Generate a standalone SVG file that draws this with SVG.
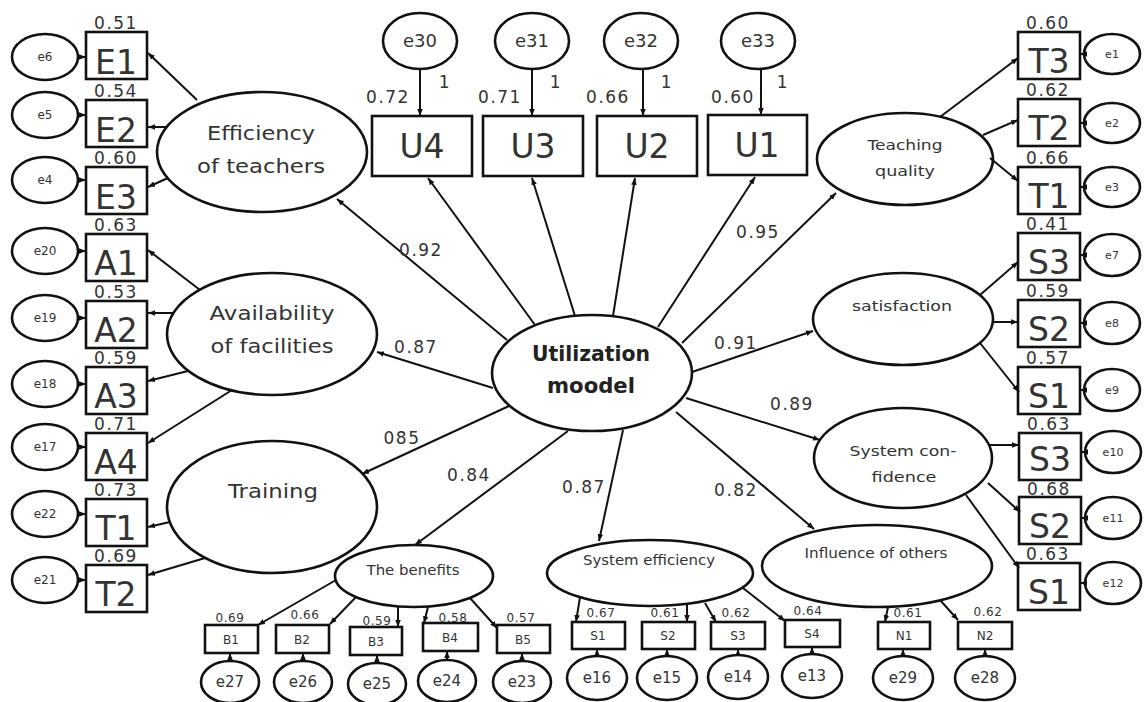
<svg xmlns="http://www.w3.org/2000/svg" width="1144" height="702" viewBox="0 0 1144 702">
<style>
.n ellipse,.n rect{fill:#fff;stroke:#111;stroke-width:2.6}
text{font-family:"DejaVu Sans","Liberation Sans",sans-serif;fill:#333;text-anchor:middle}
.big{font-size:33px}
.v{font-size:17px;letter-spacing:1.5px}
.vs{font-size:12px;letter-spacing:0.6px}
.el{font-size:12px}
.er{font-size:11px}
.et{font-size:18px}
.eb{font-size:15px}
.bl{font-size:12px}
.lat{font-size:20px}
.lat2{font-size:14px}
.ctr{font-size:22px;font-weight:bold;fill:#222}
#connectors line{stroke:#111;stroke-width:2;marker-end:url(#ah)}
</style>
<defs>
<marker id="ah" viewBox="0 0 10 10" refX="10" refY="5" markerWidth="7" markerHeight="7" markerUnits="userSpaceOnUse" orient="auto"><path d="M0,1 L10,5 L0,9 z" fill="#111"/></marker>
</defs>
<rect width="1144" height="702" fill="#fff"/>

<!-- central -->
<g id="utilization" class="n"><ellipse cx="592" cy="373" rx="100" ry="58"/><text class="ctr" x="591" y="361" textLength="118" lengthAdjust="spacingAndGlyphs">Utilization</text><text class="ctr" x="591" y="393" textLength="88" lengthAdjust="spacingAndGlyphs">moodel</text></g>

<!-- latent left -->
<g id="efficiency" class="n"><ellipse cx="262" cy="152" rx="105" ry="60"/><text class="lat" x="261" y="140" textLength="108" lengthAdjust="spacingAndGlyphs">Efficiency</text><text class="lat" x="261" y="173" textLength="128" lengthAdjust="spacingAndGlyphs">of teachers</text></g>
<g id="availability" class="n"><ellipse cx="272" cy="334" rx="105" ry="61"/><text class="lat" x="272" y="320" textLength="125" lengthAdjust="spacingAndGlyphs">Availability</text><text class="lat" x="272" y="353" textLength="123" lengthAdjust="spacingAndGlyphs">of facilities</text></g>
<g id="training" class="n"><ellipse cx="272" cy="507" rx="105" ry="66"/><text class="lat" x="273" y="498" textLength="90" lengthAdjust="spacingAndGlyphs">Training</text></g>

<!-- latent right -->
<g id="teaching" class="n"><ellipse cx="905" cy="159" rx="88" ry="46"/><text class="lat2" x="905" y="150" textLength="75" lengthAdjust="spacingAndGlyphs">Teaching</text><text class="lat2" x="905" y="176" textLength="60" lengthAdjust="spacingAndGlyphs">quality</text></g>
<g id="satisfaction" class="n"><ellipse cx="903" cy="319" rx="90" ry="46"/><text class="lat2" x="902" y="311" textLength="100" lengthAdjust="spacingAndGlyphs">satisfaction</text></g>
<g id="confidence" class="n"><ellipse cx="903" cy="458" rx="89" ry="50"/><text class="lat2" x="903" y="456" textLength="107" lengthAdjust="spacingAndGlyphs">System con-</text><text class="lat2" x="904" y="482" textLength="65" lengthAdjust="spacingAndGlyphs">fidence</text></g>

<!-- latent bottom -->
<g id="benefits" class="n"><ellipse cx="414" cy="576" rx="79" ry="31"/><text class="lat2" x="413" y="575" textLength="93" lengthAdjust="spacingAndGlyphs">The benefits</text></g>
<g id="sysefficiency" class="n"><ellipse cx="650" cy="573" rx="103" ry="33"/><text class="lat2" x="649" y="565" textLength="132" lengthAdjust="spacingAndGlyphs">System efficiency</text></g>
<g id="influence" class="n"><ellipse cx="877" cy="566" rx="115" ry="41"/><text class="lat2" x="876" y="558" textLength="143" lengthAdjust="spacingAndGlyphs">Influence of others</text></g>

<!-- left indicators -->
<g id="E1" class="n"><rect x="86" y="32" width="61" height="47"/><text class="big" x="116" y="74">E1</text><text class="v" x="116" y="29">0.51</text></g>
<g id="E2" class="n"><rect x="86" y="100" width="61" height="47"/><text class="big" x="116" y="142">E2</text><text class="v" x="116" y="97">0.54</text></g>
<g id="E3" class="n"><rect x="86" y="167" width="61" height="47"/><text class="big" x="116" y="209">E3</text><text class="v" x="116" y="164">0.60</text></g>
<g id="A1" class="n"><rect x="86" y="234" width="61" height="47"/><text class="big" x="116" y="275">A1</text><text class="v" x="116" y="231">0.63</text></g>
<g id="A2" class="n"><rect x="86" y="301" width="61" height="47"/><text class="big" x="116" y="342">A2</text><text class="v" x="116" y="298">0.53</text></g>
<g id="A3" class="n"><rect x="86" y="367" width="61" height="47"/><text class="big" x="116" y="408">A3</text><text class="v" x="116" y="364">0.59</text></g>
<g id="A4" class="n"><rect x="86" y="433" width="61" height="47"/><text class="big" x="116" y="474">A4</text><text class="v" x="116" y="430">0.71</text></g>
<g id="T1L" class="n"><rect x="86" y="499" width="61" height="47"/><text class="big" x="116" y="540">T1</text><text class="v" x="116" y="496">0.73</text></g>
<g id="T2L" class="n"><rect x="86" y="565" width="61" height="47"/><text class="big" x="116" y="606">T2</text><text class="v" x="116" y="562">0.69</text></g>

<g id="e6" class="n"><ellipse cx="45" cy="57" rx="33" ry="23"/><text class="el" x="45" y="61">e6</text></g>
<g id="e5" class="n"><ellipse cx="45" cy="115" rx="33" ry="23"/><text class="el" x="45" y="119">e5</text></g>
<g id="e4" class="n"><ellipse cx="45" cy="180" rx="33" ry="23"/><text class="el" x="45" y="184">e4</text></g>
<g id="e20" class="n"><ellipse cx="45" cy="251" rx="33" ry="23"/><text class="el" x="45" y="255">e20</text></g>
<g id="e19" class="n"><ellipse cx="45" cy="318" rx="33" ry="23"/><text class="el" x="45" y="322">e19</text></g>
<g id="e18" class="n"><ellipse cx="45" cy="384" rx="33" ry="23"/><text class="el" x="45" y="388">e18</text></g>
<g id="e17" class="n"><ellipse cx="45" cy="447" rx="33" ry="23"/><text class="el" x="45" y="451">e17</text></g>
<g id="e22" class="n"><ellipse cx="45" cy="514" rx="33" ry="23"/><text class="el" x="45" y="518">e22</text></g>
<g id="e21" class="n"><ellipse cx="45" cy="580" rx="33" ry="23"/><text class="el" x="45" y="584">e21</text></g>

<!-- right indicators -->
<g id="T3" class="n"><rect x="1018" y="32" width="62" height="47"/><text class="big" x="1049" y="73">T3</text><text class="v" x="1048" y="29">0.60</text></g>
<g id="T2R" class="n"><rect x="1018" y="99" width="62" height="47"/><text class="big" x="1049" y="140">T2</text><text class="v" x="1048" y="96">0.62</text></g>
<g id="T1R" class="n"><rect x="1018" y="167" width="62" height="47"/><text class="big" x="1049" y="208">T1</text><text class="v" x="1048" y="164">0.66</text></g>
<g id="S3a" class="n"><rect x="1018" y="233" width="62" height="47"/><text class="big" x="1049" y="274">S3</text><text class="v" x="1048" y="230">0.41</text></g>
<g id="S2a" class="n"><rect x="1018" y="300" width="62" height="47"/><text class="big" x="1049" y="341">S2</text><text class="v" x="1048" y="297">0.59</text></g>
<g id="S1a" class="n"><rect x="1018" y="367" width="62" height="47"/><text class="big" x="1049" y="408">S1</text><text class="v" x="1048" y="364">0.57</text></g>
<g id="S3b" class="n"><rect x="1019" y="433" width="62" height="47"/><text class="big" x="1050" y="471">S3</text><text class="v" x="1049" y="430">0.63</text></g>
<g id="S2b" class="n"><rect x="1019" y="497" width="62" height="47"/><text class="big" x="1050" y="538">S2</text><text class="v" x="1049" y="495">0.68</text></g>
<g id="S1b" class="n"><rect x="1018" y="563" width="62" height="47"/><text class="big" x="1049" y="604">S1</text><text class="v" x="1048" y="560">0.63</text></g>

<g id="e1" class="n"><ellipse cx="1112" cy="54" rx="28" ry="20"/><text class="er" x="1112" y="58">e1</text></g>
<g id="e2" class="n"><ellipse cx="1112" cy="123" rx="28" ry="20"/><text class="er" x="1112" y="127">e2</text></g>
<g id="e3" class="n"><ellipse cx="1112" cy="187" rx="28" ry="20"/><text class="er" x="1112" y="191">e3</text></g>
<g id="e7" class="n"><ellipse cx="1112" cy="255" rx="28" ry="21"/><text class="er" x="1112" y="259">e7</text></g>
<g id="e8" class="n"><ellipse cx="1112" cy="323" rx="28" ry="21"/><text class="er" x="1112" y="327">e8</text></g>
<g id="e9" class="n"><ellipse cx="1112" cy="390" rx="28" ry="21"/><text class="er" x="1112" y="394">e9</text></g>
<g id="e10" class="n"><ellipse cx="1113" cy="452" rx="28" ry="21"/><text class="er" x="1113" y="456">e10</text></g>
<g id="e11" class="n"><ellipse cx="1113" cy="518" rx="28" ry="21"/><text class="er" x="1113" y="522">e11</text></g>
<g id="e12" class="n"><ellipse cx="1113" cy="583" rx="28" ry="21"/><text class="er" x="1113" y="587">e12</text></g>

<!-- top indicators -->
<g id="U4" class="n"><rect x="372" y="116" width="100" height="60"/><text class="big" x="422" y="158">U4</text><text class="v" x="388" y="103">0.72</text></g>
<g id="U3" class="n"><rect x="483" y="116" width="100" height="60"/><text class="big" x="533" y="158">U3</text><text class="v" x="500" y="103">0.71</text></g>
<g id="U2" class="n"><rect x="597" y="116" width="100" height="60"/><text class="big" x="647" y="158">U2</text><text class="v" x="608" y="103">0.66</text></g>
<g id="U1" class="n"><rect x="708" y="115" width="99" height="60"/><text class="big" x="757" y="157">U1</text><text class="v" x="733" y="103">0.60</text></g>

<g id="e30" class="n"><ellipse cx="420" cy="41" rx="37" ry="28"/><text class="et" x="420" y="47">e30</text><text class="v" x="445" y="88">1</text></g>
<g id="e31" class="n"><ellipse cx="532" cy="41" rx="37" ry="28"/><text class="et" x="532" y="47">e31</text><text class="v" x="556" y="88">1</text></g>
<g id="e32" class="n"><ellipse cx="641" cy="41" rx="37" ry="28"/><text class="et" x="641" y="47">e32</text><text class="v" x="667" y="88">1</text></g>
<g id="e33" class="n"><ellipse cx="758" cy="41" rx="37" ry="28"/><text class="et" x="758" y="47">e33</text><text class="v" x="783" y="88">1</text></g>

<!-- bottom indicators: benefits -->
<g id="B1" class="n"><rect x="205" y="625" width="53" height="28"/><text class="bl" x="231" y="644">B1</text><text class="vs" x="230" y="622">0.69</text></g>
<g id="B2" class="n"><rect x="276" y="625" width="53" height="28"/><text class="bl" x="302" y="644">B2</text><text class="vs" x="305" y="619">0.66</text></g>
<g id="B3" class="n"><rect x="350" y="627" width="52" height="28"/><text class="bl" x="376" y="646">B3</text><text class="vs" x="377" y="625">0.59</text></g>
<g id="B4" class="n"><rect x="423" y="623" width="55" height="28"/><text class="bl" x="450" y="642">B4</text><text class="vs" x="453" y="622">0.58</text></g>
<g id="B5" class="n"><rect x="497" y="625" width="53" height="28"/><text class="bl" x="523" y="644">B5</text><text class="vs" x="521" y="622">0.57</text></g>

<g id="e27" class="n"><ellipse cx="230" cy="682" rx="29" ry="21"/><text class="eb" x="230" y="687">e27</text></g>
<g id="e26" class="n"><ellipse cx="303" cy="682" rx="29" ry="21"/><text class="eb" x="303" y="687">e26</text></g>
<g id="e25" class="n"><ellipse cx="377" cy="684" rx="29" ry="21"/><text class="eb" x="377" y="689">e25</text></g>
<g id="e24" class="n"><ellipse cx="447" cy="681" rx="29" ry="21"/><text class="eb" x="447" y="686">e24</text></g>
<g id="e23" class="n"><ellipse cx="522" cy="682" rx="29" ry="21"/><text class="eb" x="522" y="687">e23</text></g>

<!-- bottom indicators: system efficiency / influence -->
<g id="S1c" class="n"><rect x="572" y="622" width="53" height="27"/><text class="bl" x="598" y="640">S1</text><text class="vs" x="601" y="617">0.67</text></g>
<g id="S2c" class="n"><rect x="642" y="622" width="53" height="27"/><text class="bl" x="668" y="640">S2</text><text class="vs" x="665" y="617">0.61</text></g>
<g id="S3c" class="n"><rect x="711" y="622" width="54" height="27"/><text class="bl" x="738" y="640">S3</text><text class="vs" x="736" y="617">0.62</text></g>
<g id="S4c" class="n"><rect x="785" y="620" width="55" height="27"/><text class="bl" x="812" y="638">S4</text><text class="vs" x="808" y="615">0.64</text></g>
<g id="N1" class="n"><rect x="878" y="622" width="52" height="27"/><text class="bl" x="904" y="640">N1</text><text class="vs" x="908" y="617">0.61</text></g>
<g id="N2" class="n"><rect x="958" y="622" width="54" height="27"/><text class="bl" x="985" y="640">N2</text><text class="vs" x="988" y="616">0.62</text></g>

<g id="e16" class="n"><ellipse cx="597" cy="678" rx="30" ry="22"/><text class="eb" x="597" y="683">e16</text></g>
<g id="e15" class="n"><ellipse cx="667" cy="678" rx="30" ry="22"/><text class="eb" x="667" y="683">e15</text></g>
<g id="e14" class="n"><ellipse cx="738" cy="677" rx="30" ry="22"/><text class="eb" x="738" y="682">e14</text></g>
<g id="e13" class="n"><ellipse cx="812" cy="676" rx="30" ry="22"/><text class="eb" x="812" y="681">e13</text></g>
<g id="e29" class="n"><ellipse cx="903" cy="678" rx="30" ry="22"/><text class="eb" x="903" y="683">e29</text></g>
<g id="e28" class="n"><ellipse cx="985" cy="678" rx="30" ry="22"/><text class="eb" x="985" y="683">e28</text></g>

<!-- connectors -->
<g id="connectors">
<line x1="507" y1="340" x2="337" y2="199"/>
<line x1="535" y1="325" x2="428" y2="178"/>
<line x1="575" y1="316" x2="532" y2="178"/>
<line x1="613" y1="316" x2="635" y2="178"/>
<line x1="658" y1="327" x2="755" y2="177"/>
<line x1="682" y1="343" x2="836" y2="193"/>
<line x1="692" y1="372" x2="813" y2="331"/>
<line x1="686" y1="398" x2="820" y2="440"/>
<line x1="676" y1="412" x2="814" y2="529"/>
<line x1="623" y1="430" x2="599" y2="541"/>
<line x1="568" y1="431" x2="415" y2="545"/>
<line x1="509" y1="406" x2="362" y2="474"/>
<line x1="493" y1="388" x2="377" y2="352"/>
<line x1="197" y1="100" x2="148" y2="53"/>
<line x1="166" y1="127" x2="148" y2="127"/>
<line x1="168" y1="178" x2="148" y2="187"/>
<line x1="200" y1="290" x2="148" y2="250"/>
<line x1="173" y1="313" x2="148" y2="313"/>
<line x1="188" y1="371" x2="148" y2="381"/>
<line x1="232" y1="390" x2="148" y2="443"/>
<line x1="170" y1="522" x2="148" y2="527"/>
<line x1="205" y1="558" x2="148" y2="575"/>
<line x1="940" y1="117" x2="1018" y2="58"/>
<line x1="983" y1="135" x2="1018" y2="120"/>
<line x1="990" y1="158" x2="1018" y2="181"/>
<line x1="980" y1="295" x2="1018" y2="262"/>
<line x1="993" y1="322" x2="1018" y2="322"/>
<line x1="980" y1="343" x2="1019" y2="392"/>
<line x1="990" y1="445" x2="1019" y2="445"/>
<line x1="988" y1="483" x2="1020" y2="512"/>
<line x1="966" y1="495" x2="1019" y2="568"/>
<line x1="336" y1="580" x2="258" y2="625"/>
<line x1="356" y1="597" x2="330" y2="624"/>
<line x1="398" y1="606" x2="398" y2="627"/>
<line x1="428" y1="607" x2="424" y2="623"/>
<line x1="470" y1="598" x2="497" y2="628"/>
<line x1="580" y1="597" x2="576" y2="622"/>
<line x1="687" y1="604" x2="687" y2="622"/>
<line x1="705" y1="603" x2="716" y2="622"/>
<line x1="743" y1="588" x2="785" y2="621"/>
<line x1="888" y1="607" x2="885" y2="622"/>
<line x1="940" y1="600" x2="958" y2="620"/>
<line x1="78" y1="57" x2="86" y2="57"/>
<line x1="78" y1="115" x2="86" y2="115"/>
<line x1="78" y1="180" x2="86" y2="180"/>
<line x1="78" y1="251" x2="86" y2="251"/>
<line x1="78" y1="318" x2="86" y2="318"/>
<line x1="78" y1="384" x2="86" y2="384"/>
<line x1="78" y1="447" x2="86" y2="447"/>
<line x1="78" y1="514" x2="86" y2="514"/>
<line x1="78" y1="580" x2="86" y2="580"/>
<line x1="1085" y1="54" x2="1080" y2="54"/>
<line x1="1085" y1="123" x2="1080" y2="123"/>
<line x1="1085" y1="187" x2="1080" y2="187"/>
<line x1="1085" y1="255" x2="1080" y2="255"/>
<line x1="1085" y1="323" x2="1080" y2="323"/>
<line x1="1085" y1="390" x2="1080" y2="390"/>
<line x1="1086" y1="452" x2="1081" y2="452"/>
<line x1="1086" y1="518" x2="1081" y2="518"/>
<line x1="1086" y1="583" x2="1080" y2="583"/>
<line x1="420" y1="69" x2="420" y2="116"/>
<line x1="532" y1="69" x2="532" y2="116"/>
<line x1="643" y1="69" x2="643" y2="116"/>
<line x1="761" y1="69" x2="761" y2="115"/>
<line x1="230" y1="661" x2="230" y2="653"/>
<line x1="303" y1="661" x2="303" y2="653"/>
<line x1="377" y1="663" x2="377" y2="655"/>
<line x1="447" y1="660" x2="447" y2="651"/>
<line x1="522" y1="661" x2="522" y2="653"/>
<line x1="597" y1="656" x2="597" y2="649"/>
<line x1="667" y1="656" x2="667" y2="649"/>
<line x1="738" y1="655" x2="738" y2="649"/>
<line x1="812" y1="654" x2="812" y2="647"/>
<line x1="903" y1="656" x2="903" y2="649"/>
<line x1="985" y1="656" x2="985" y2="649"/>
</g>

<!-- path coefficients -->
<g id="coefficients">
<text class="v" x="421" y="256">0.92</text>
<text class="v" x="758" y="238">0.95</text>
<text class="v" x="736" y="349">0.91</text>
<text class="v" x="792" y="410">0.89</text>
<text class="v" x="736" y="496">0.82</text>
<text class="v" x="584" y="493">0.87</text>
<text class="v" x="469" y="481">0.84</text>
<text class="v" x="402" y="444">085</text>
<text class="v" x="416" y="353">0.87</text>
</g>
</svg>
